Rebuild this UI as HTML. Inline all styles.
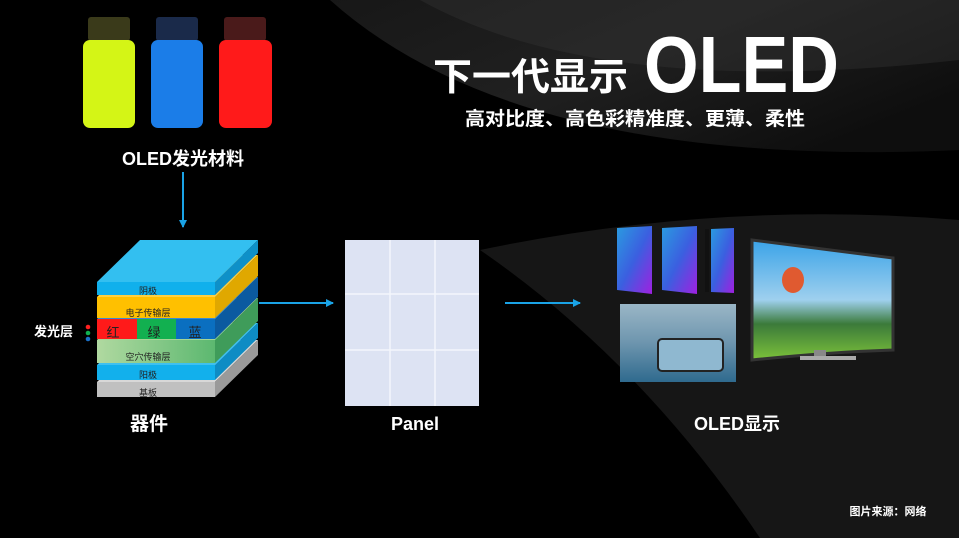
<!DOCTYPE html>
<html><head><meta charset="utf-8"><style>
html,body{margin:0;padding:0;background:#000;}
svg{display:block;}
text{font-family:"Liberation Sans","Noto Sans CJK SC",sans-serif;}
</style></head><body>
<svg width="959" height="538" viewBox="0 0 959 538" xmlns="http://www.w3.org/2000/svg">
<defs>
<linearGradient id="sw1" x1="0" y1="0" x2="1" y2="0.6"><stop offset="0" stop-color="#2a2a2a"/><stop offset="0.5" stop-color="#3a3a3a"/><stop offset="1" stop-color="#1a1a1a"/></linearGradient>
<linearGradient id="scr" x1="0" y1="0" x2="1" y2="1"><stop offset="0" stop-color="#2a9be0"/><stop offset="0.5" stop-color="#3b5fe0"/><stop offset="1" stop-color="#a020e0"/></linearGradient>
<linearGradient id="tv" x1="0" y1="0" x2="0" y2="1"><stop offset="0" stop-color="#3aa3e8"/><stop offset="0.5" stop-color="#9fd0ee"/><stop offset="0.7" stop-color="#3b7a3a"/><stop offset="1" stop-color="#7cc23a"/></linearGradient>
<linearGradient id="ph" x1="0" y1="0" x2="0" y2="1"><stop offset="0" stop-color="#9ab6c6"/><stop offset="0.5" stop-color="#6d95ae"/><stop offset="1" stop-color="#2f6a8e"/></linearGradient>
<linearGradient id="htl" x1="0" y1="0" x2="1" y2="0"><stop offset="0" stop-color="#b0d9a0"/><stop offset="1" stop-color="#5cb870"/></linearGradient>
<marker id="ar" markerWidth="8" markerHeight="8" refX="7" refY="4" orient="auto" markerUnits="userSpaceOnUse"><path d="M0,0 L8,4 L0,8 z" fill="#1aa3e6"/></marker>
</defs>
<rect width="959" height="538" fill="#000"/>
<path d="M330,0 Q520,170 959,150 L959,0 Z" fill="url(#sw1)" opacity="0.55"/>
<path d="M420,0 Q600,100 959,60 L959,0 Z" fill="#3a3a3a" opacity="0.35"/>
<path d="M480,250 Q720,200 959,220 L959,538 L760,538 Q640,360 480,250Z" fill="#1c1c1c" opacity="0.8"/>

<!-- bottles -->
<g>
<rect x="88" y="17" width="42" height="24" rx="3" fill="#3a3a1a"/>
<rect x="83" y="40" width="52" height="88" rx="7" fill="#d4f516"/>
<rect x="156" y="17" width="42" height="24" rx="3" fill="#1a2a4a"/>
<rect x="151" y="40" width="52" height="88" rx="7" fill="#1b7de8"/>
<rect x="224" y="17" width="42" height="24" rx="3" fill="#4a1a1a"/>
<rect x="219" y="40" width="53" height="88" rx="7" fill="#ff1a1a"/>
</g>
<text x="183" y="165" font-size="18" font-weight="bold" fill="#fff" text-anchor="middle">OLED发光材料</text>
<line x1="183" y1="172" x2="183" y2="227" stroke="#1aa3e6" stroke-width="2" marker-end="url(#ar)"/>

<!-- stack -->
<g>
<polygon points="97,382 140,340 258,340 215,382" fill="#d8d8d8"/>
<polygon points="215,382 258,340 258,355 215,397" fill="#9a9a9a"/>
<rect x="97" y="382" width="118" height="15" fill="#c0c0c0"/>
<text x="148" y="396" font-size="9" fill="#222" text-anchor="middle">基板</text>

<polygon points="97,365 140,323 258,323 215,365" fill="#3ec0f0"/>
<polygon points="215,365 258,323 258,338 215,380" fill="#0e8cc4"/>
<rect x="97" y="365" width="118" height="15" fill="#12b0ec"/>
<text x="148" y="378" font-size="9" fill="#222" text-anchor="middle">阳极</text>

<polygon points="97,340 140,298 258,298 215,340" fill="#a5d596"/>
<polygon points="215,340 258,298 258,321 215,363" fill="#3f9c5a"/>
<rect x="97" y="340" width="118" height="23" fill="url(#htl)"/>
<text x="148" y="360" font-size="9" fill="#222" text-anchor="middle">空穴传输层</text>

<polygon points="97,319 140,277 258,277 215,319" fill="#3a8ad0"/>
<polygon points="215,319 258,277 258,297 215,339" fill="#0b5aa0"/>
<rect x="97" y="319" width="40" height="20" fill="#ff1a1a"/>
<rect x="137" y="319" width="39" height="20" fill="#12b050"/>
<rect x="176" y="319" width="39" height="20" fill="#0a6fc0"/>
<text x="113" y="337" font-size="13" fill="#222" text-anchor="middle">红</text>
<text x="154" y="337" font-size="13" fill="#222" text-anchor="middle">绿</text>
<text x="195" y="337" font-size="13" fill="#222" text-anchor="middle">蓝</text>

<polygon points="97,297 140,255 258,255 215,297" fill="#ffd040"/>
<polygon points="215,297 258,255 258,276 215,318" fill="#e0a800"/>
<rect x="97" y="297" width="118" height="21" fill="#ffc000"/>
<text x="148" y="316" font-size="9" fill="#222" text-anchor="middle">电子传输层</text>

<polygon points="97,282 140,240 258,240 215,282" fill="#33bff0"/>
<polygon points="215,282 258,240 258,253 215,295" fill="#0e90c8"/>
<rect x="97" y="282" width="118" height="13" fill="#10b0ec"/>
<text x="148" y="294" font-size="9" fill="#222" text-anchor="middle">阴极</text>
</g>
<text x="34" y="336" font-size="13" font-weight="bold" fill="#fff">发光层</text>
<circle cx="88" cy="327" r="2.3" fill="#ff2020"/>
<circle cx="88" cy="333" r="2.3" fill="#10b050"/>
<circle cx="88" cy="339" r="2.3" fill="#1a70c8"/>
<text x="149" y="430" font-size="19" font-weight="bold" fill="#fff" text-anchor="middle">器件</text>

<line x1="259" y1="303" x2="333" y2="303" stroke="#1aa3e6" stroke-width="2" marker-end="url(#ar)"/>

<!-- panel -->
<rect x="345" y="240" width="134" height="166" fill="#dde3f3"/>
<g stroke="#f4f6fc" stroke-width="1.5">
<line x1="390" y1="240" x2="390" y2="406"/><line x1="435" y1="240" x2="435" y2="406"/>
<line x1="345" y1="294" x2="479" y2="294"/><line x1="345" y1="350" x2="479" y2="350"/>
</g>
<text x="415" y="430" font-size="18" font-weight="bold" fill="#fff" text-anchor="middle">Panel</text>

<line x1="505" y1="303" x2="580" y2="303" stroke="#1aa3e6" stroke-width="2" marker-end="url(#ar)"/>

<!-- display images -->
<polygon points="617,228 652,226 652,294 617,290" fill="url(#scr)"/>
<polygon points="662,228 697,226 697,294 662,290" fill="url(#scr)"/>
<rect x="705" y="229" width="4" height="63" fill="#111"/>
<polygon points="711,229 734,228 734,293 711,292" fill="url(#scr)"/>
<rect x="620" y="304" width="116" height="78" fill="url(#ph)"/>
<rect x="658" y="339" width="65" height="32" rx="4" fill="#8fb8d0" stroke="#222" stroke-width="2"/>
<path d="M752,240 Q830,250 893,258 L893,350 Q830,352 752,360 Z" fill="url(#tv)" stroke="#333" stroke-width="3"/>
<ellipse cx="793" cy="280" rx="11" ry="13" fill="#e05a30"/>
<rect x="814" y="350" width="12" height="8" fill="#888"/>
<rect x="800" y="356" width="56" height="4" fill="#aaa"/>
<text x="737" y="430" font-size="18" font-weight="bold" fill="#fff" text-anchor="middle">OLED显示</text>

<!-- title -->
<text x="433" y="90" font-size="38" font-weight="bold" fill="#fff" textLength="195" lengthAdjust="spacingAndGlyphs">下一代显示</text>
<text x="644" y="92" font-size="80" font-weight="bold" fill="#fff" textLength="195" lengthAdjust="spacingAndGlyphs">OLED</text>
<text x="465" y="125" font-size="19" font-weight="bold" fill="#fff" textLength="340" lengthAdjust="spacingAndGlyphs">高对比度、高色彩精准度、更薄、柔性</text>

<text x="888" y="515" font-size="11" font-weight="bold" fill="#fff" text-anchor="middle">图片来源：网络</text>
</svg>
</body></html>
